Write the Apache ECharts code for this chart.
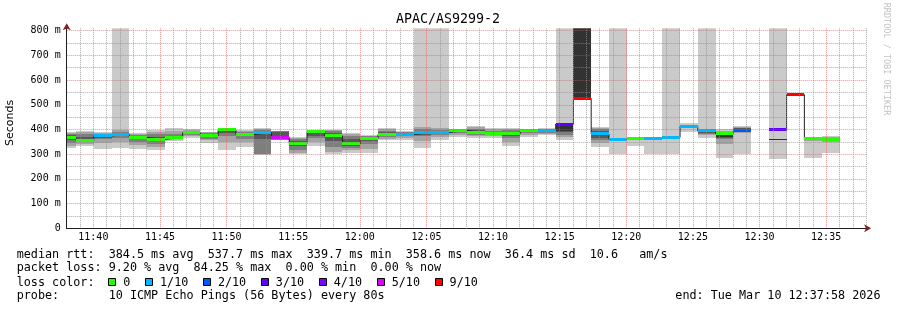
<!DOCTYPE html>
<html><head><meta charset="utf-8">
<script src="https://cdn.jsdelivr.net/npm/echarts@6/dist/echarts.min.js"></script>
<style>html,body{margin:0;padding:0;background:#fff}#c{width:897px;height:310px}</style>
</head><body><div id="c"></div>
<script>
// ---- data (times: seconds after 11:00:00, 80 s RRD step) ----
const titleText = 'APAC/AS9299-2';
const axisStart = 2280;   // 11:38:00
const axisEnd = 5880;     // 12:38:00
const step = 80;
const binStart = [2242,2322,2402,2482,2562,2642,2722,2802,2882,2962,3042,3122,3202,3282,3362,3442,3522,3602,3682,3762,3842,3922,4002,4082,4162,4242,4322,4402,4482,4562,4642,4722,4802,4882,4962,5042,5122,5202,5282,5362,5442,5522,5602,5682];
const N = null, I = 1e4; // I = timeout (off the top of the graph)
const median = [367,357,374,380,367,360,367,387,374,398,380,387,367,343,391,374,343,364,380,380,387,388,396,388,384,382,394,394,422,526,382,360,364,364,368,414,394,384,394,N,398,541,362,361];
const lossCount = [0,0,1,1,0,0,0,0,0,0,0,1,5,0,0,0,0,0,0,1,1,1,0,0,0,0,0,1,3,9,1,1,0,1,1,1,1,0,2,N,3,9,0,0];
const ping1 = [324,333,320,324,320,315,355,364,346,317,330,298,N,300,333,301,304,306,357,357,326,357,370,367,367,333,370,377,357,N,330,300,334,300,300,388,364,283,300,N,282,N,285,306];
const ping2 = [332,340,345,348,336,330,360,372,356,350,350,300,N,305,350,310,315,320,363,365,355,368,378,372,372,350,378,382,370,N,345,352,356,358,360,405,377,340,385,N,357,N,355,350];
const ping3 = [345,348,360,365,350,342,363,378,362,372,362,302,357,318,365,330,325,340,370,372,372,376,385,378,376,365,384,386,377,N,358,355,358,360,362,408,380,360,389,N,357,N,358,355];
const ping4 = [356,352,367,372,360,352,365,383,368,386,372,360,360,335,375,355,335,352,375,376,378,382,390,383,380,373,389,390,390,N,365,357,360,362,364,410,384,364,392,N,358,N,360,358];
const ping5 = [363,355,372,378,365,358,366,386,372,396,378,385,365,340,388,370,340,360,378,378,384,386,395,386,383,380,392,393,395,526,378,358,362,363,366,412,390,370,394,N,358,N,361,360];
const ping6 = [370,359,376,382,369,362,368,388,376,400,382,389,369,345,393,377,345,367,382,382,390,390,398,390,386,384,396,395,422,I,386,362,366,365,370,416,396,380,398,N,361,N,363,362];
const ping7 = [376,368,380,386,374,370,372,391,380,401,386,392,390,352,395,385,360,370,388,385,395,394,399,396,390,390,397,397,422,N,395,362,366,366,371,418,398,384,404,N,361,N,363,364];
const ping8 = [382,380,383,390,378,380,380,394,384,402,390,396,394,362,396,392,375,373,395,388,400,398,400,403,395,396,398,399,422,N,400,363,367,367,372,419,400,388,408,N,362,N,364,366];
const ping9 = [387,388,386,396,382,390,392,397,388,403,394,400,N,366,397,396,382,375,400,391,410,405,401,409,400,400,399,401,422,N,405,365,368,368,374,420,402,392,412,N,362,N,364,368];
const ping10 = [391,394,388,I,385,398,404,400,391,405,398,404,N,368,398,398,387,377,404,394,I,I,402,414,404,404,400,404,I,N,409,I,370,370,I,425,I,400,414,N,I,N,365,373];
const lossColors = ['#26ff00','#00b8ff','#0059ff','#5e00ff','#7e00ff','#dd00ff','#ff0000'];
const lossLabels = ['0','1/10','2/10','3/10','4/10','5/10','9/10'];
const yTicks = [0,100,200,300,400,500,600,700,800];
const statsLine1 = 'median rtt:  384.5 ms avg  537.7 ms max  339.7 ms min  358.6 ms now  36.4 ms sd  10.6   am/s';
const statsLine2 = 'packet loss: 9.20 % avg  84.25 % max  0.00 % min  0.00 % now';
const legendHead = 'loss color:';
const probeLine = 'probe:       10 ICMP Echo Pings (56 Bytes) every 80s';
const endLine = 'end: Tue Mar 10 12:37:58 2026';
const sideText = 'RRDTOOL / TOBI OETIKER';

// ---- styles ----
const MONO = "'DejaVu Sans Mono', monospace";
const shades = ['#cacaca','#a4a4a4','#7e7e7e','#585858','#323232'];
const GRID = 'rgba(143,143,143,0.75)', MGRID = 'rgba(222,79,79,0.6)';
const pings = [ping1,ping2,ping3,ping4,ping5,ping6,ping7,ping8,ping9,ping10];
function lossColor(n){ return n > 5 ? lossColors[6] : lossColors[n]; }

const chart = echarts.init(document.getElementById('c'));

function clipTo(params, r){
  const cs = params.coordSys;
  return echarts.graphic.clipRectByRect(r, {x:cs.x, y:cs.y, width:cs.width, height:cs.height});
}
function bandRender(color){
  return function(params, api){
    const a = api.coord([api.value(0), api.value(3)]);
    const b = api.coord([api.value(1), api.value(2)]);
    const x0 = Math.round(a[0]), x1 = Math.round(b[0]);
    const y0 = Math.round(a[1]), y1 = Math.round(b[1]);
    if (y1 - y0 <= 0) return;
    const shape = clipTo(params, {x:x0, y:y0, width:x1-x0, height:y1-y0});
    if (!shape) return;
    return {type:'rect', shape, style:{fill:color}};
  };
}
const series = [];
shades.forEach((c, k) => {
  const lo = pings[k], hi = pings[9-k], data = [];
  for (let i = 0; i < binStart.length; i++) {
    if (lo[i] == null || hi[i] == null) continue;
    data.push([binStart[i], binStart[i] + step, lo[i], hi[i]]);
  }
  series.push({type:'custom', renderItem: bandRender(c), data, encode:{x:[0,1], y:[2,3]}, z:2, silent:true});
});
// median step line
const stepData = [];
for (let i = 0; i < binStart.length; i++) {
  if (median[i] == null) { stepData.push([binStart[i], '-']); continue; }
  stepData.push([binStart[i], median[i]], [binStart[i] + step, median[i]]);
}
series.push({type:'line', data: stepData, showSymbol:false, symbol:'none', lineStyle:{color:'#202020', width:1}, z:3, silent:true, connectNulls:false});
// loss-coloured median segments
const medData = [];
for (let i = 0; i < binStart.length; i++) {
  if (median[i] == null) continue;
  medData.push([binStart[i], binStart[i] + step, median[i], lossCount[i]]);
}
series.push({type:'custom', data: medData, encode:{x:[0,1], y:2}, z:4, silent:true,
  renderItem(params, api){
    const a = api.coord([api.value(0), api.value(2)]);
    const b = api.coord([api.value(1), api.value(2)]);
    const x0 = Math.round(a[0]), x1 = Math.round(b[0]);
    const y0 = Math.round(a[1] - 1.5);
    const shape = clipTo(params, {x:x0, y:y0, width:x1-x0, height:3});
    if (!shape) return;
    return {type:'rect', shape, style:{fill: lossColor(api.value(3))}};
  }});

// grid colours per tick (no cycling ambiguity)
const xColors = [];
for (let v = axisStart; v <= axisEnd; v += 60) xColors.push(v === axisStart ? 'rgba(0,0,0,0)' : (v % 300 === 0 ? MGRID : GRID));
const yColors = [];
for (let v = 0; v <= 800; v += 50) yColors.push(v === 0 ? 'rgba(0,0,0,0)' : (v % 100 === 0 ? MGRID : GRID));
yColors.push('rgba(0,0,0,0)');

function fmtTime(v){
  if (v % 300 !== 0) return '';
  const h = 11 + Math.floor(v / 3600), m = Math.floor((v % 3600) / 60);
  return h + ':' + String(m).padStart(2, '0');
}

// legend squares + texts
const CW = 7.08, TX = 16.7;
const graphics = [];
function txt(t, x, y, extra){
  graphics.push(Object.assign({type:'text', silent:true, style:Object.assign({text:t, x, y, font:'11.75px ' + MONO, fill:'#000', align:'left', verticalAlign:'middle'}, extra || {})}));
}
txt(statsLine1, TX, 255);
txt(statsLine2, TX, 268.3);
txt(legendHead, TX, 282.7);
let lx = 108.3;
lossLabels.forEach((lab, k) => {
  graphics.push({type:'rect', silent:true, shape:{x:Math.round(lx)+0.5, y:278.5, width:7, height:7}, style:{fill:lossColors[k], stroke:'#000', lineWidth:1}});
  txt(lab, lx + 15, 282.7);
  lx = lx + 15 + lab.length * CW + 14.6;
});
txt(probeLine, TX, 296);
txt(endLine, 880.5, 296, {align:'right'});
graphics.push({type:'text', silent:true, x:10.5, y:123, rotation:Math.PI/2, style:{text:'Seconds', font:"11px 'DejaVu Sans', sans-serif", fill:'#000', align:'center', verticalAlign:'middle'}});
graphics.push({type:'text', silent:true, x:886.7, y:59, rotation:-Math.PI/2, style:{text:sideText, font:'8.5px ' + MONO, fill:'#c4c4c4', align:'center', verticalAlign:'middle'}});
graphics.push({type:'text', silent:true, style:{text:titleText, x:448, y:20, font:'13.3px ' + MONO, fill:'#000', align:'center', verticalAlign:'middle'}});

chart.setOption({
  animation:false,
  backgroundColor:'#fff',
  grid:{left:66.7, right:30.9, top:28.2, bottom:81.7, containLabel:false},
  xAxis:[{type:'value', min:axisStart, max:axisEnd, interval:60, position:'bottom', z:10,
      axisLine:{lineStyle:{color:'#1f1f1f', width:1}}, axisTick:{show:false},
      axisLabel:{formatter:fmtTime, fontFamily:MONO, fontSize:10, color:'#000', margin:4},
      splitLine:{show:true, lineStyle:{color:xColors, width:1, type:[1,1]}}},
    {type:'value', min:axisStart, max:axisEnd, position:'bottom', z:12,
      axisLine:{show:true, symbol:['none','arrow'], symbolSize:[6,7], symbolOffset:[0,5], lineStyle:{color:'#801f1f', width:0.01}},
      axisTick:{show:false}, axisLabel:{show:false}, splitLine:{show:false}}],
  yAxis:[{type:'value', min:0, max:810, interval:50, z:9,
      axisLine:{show:true, lineStyle:{color:'#1f1f1f', width:1}}, axisTick:{show:false},
      axisLabel:{fontFamily:MONO, fontSize:10, color:'#000', margin:6,
        formatter: v => yTicks.indexOf(v) < 0 ? '' : (v === 0 ? '0' : v + ' m')},
      splitLine:{show:true, lineStyle:{color:yColors, width:1, type:[1,1]}}},
    {type:'value', min:0, max:810, position:'left', z:12,
      axisLine:{show:true, symbol:['none','arrow'], symbolSize:[6,7], symbolOffset:[0,5], lineStyle:{color:'#801f1f', width:0.01}},
      axisTick:{show:false}, axisLabel:{show:false}, splitLine:{show:false}}],
  series,
  graphic: graphics
});
</script></body></html>
